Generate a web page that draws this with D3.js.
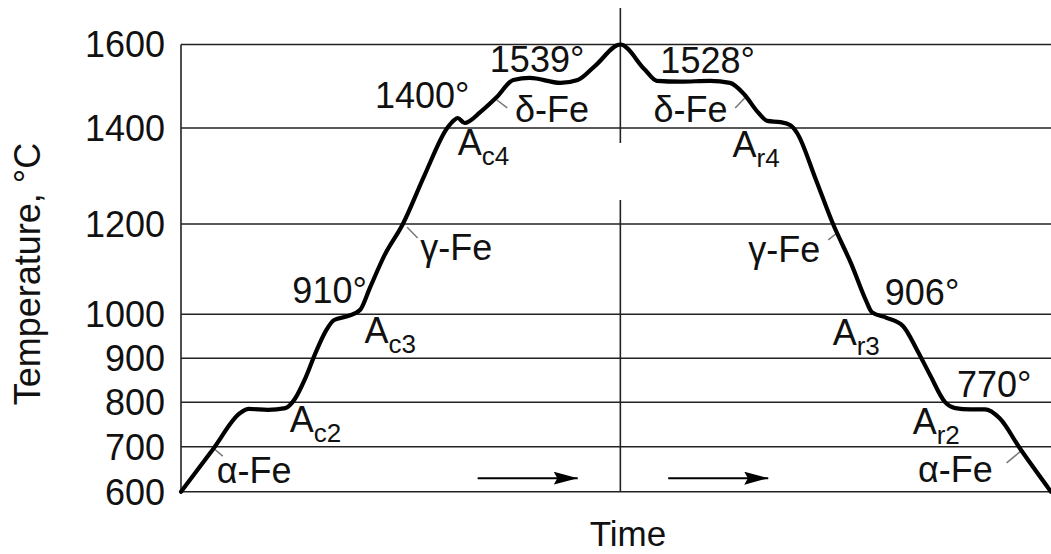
<!DOCTYPE html>
<html>
<head>
<meta charset="utf-8">
<script src="https://cdn.jsdelivr.net/npm/d3@7"></script>
<style>
	body { margin: 0; background: #fff; }
	text { font-family: "Liberation Sans", Arial, sans-serif; fill: #111; }
</style>
</head>
<body>
<svg id="chart" width="1051" height="554"></svg>
<script>
// tick values of the temperature axis (the drawing's axis is not quite linear)
var tempTicks = [600, 700, 800, 900, 1000, 1200, 1400, 1600];
var tickPix = [491.7, 446.7, 402.3, 358.3, 314.3, 224, 128, 44.5];

// heating / cooling curve: time (arbitrary units 0-100), temperature °C
var curveTime = [0, 3.7, 6.8, 7.8, 10.0, 12.0, 13.1, 14.3, 15.5, 16.7, 17.6, 19.2, 20.6, 21.7, 23.4, 25.5, 28.0,
	30.6, 31.4, 31.8, 32.6, 34.4, 36.3, 38.2, 40.1, 43.6, 45.6, 47.6, 50.5,
	53.3, 54.7, 57.4, 60.8, 63.1, 64.8, 66.3, 67.4, 68.9, 70.0, 70.8, 72.9, 74.9, 77.1, 78.7, 79.4,
	81.1, 83.0, 84.6, 86.1, 87.8, 89.0, 90.7, 92.4, 94.1, 96.4, 100];
var curveTemp = [600, 695, 776, 785, 783, 787, 808, 855, 914, 964, 987, 996, 1010, 1058, 1131, 1200, 1302,
	1400, 1419, 1424, 1412, 1438, 1474, 1515, 1520, 1508, 1515, 1549, 1600,
	1540, 1513, 1511, 1513, 1508, 1479, 1438, 1417, 1414, 1407, 1390, 1296, 1202, 1109, 1032, 1005,
	992, 973, 919, 862, 801, 787, 784, 784, 764, 697, 600];

// labels: text, subscript, time, temperature (start of text, baseline)
var labels = [
	["α-Fe", "", 4.1, 619],
	["A", "c2", 12.5, 733],
	["910°", "", 12.8, 1025],
	["A", "c3", 21.1, 935],
	["γ-Fe", "", 27.5, 1120],
	["1400°", "", 22.3, 1448],
	["A", "c4", 31.8, 1344],
	["1539°", "", 35.5, 1534],
	["δ-Fe", "", 38.4, 1414],
	["1528°", "", 55.1, 1532],
	["δ-Fe", "", 54.3, 1414],
	["A", "r4", 63.4, 1340],
	["γ-Fe", "", 65.2, 1116],
	["906°", "", 80.9, 1021],
	["A", "r3", 74.9, 930],
	["770°", "", 89.2, 812],
	["A", "r2", 84.1, 728],
	["α-Fe", "", 84.7, 621]
];

// short leader lines from the phase labels to the curve: t1, T1, t2, T2
var leaders = [
	[3.7, 697, 4.8, 679],
	[26.0, 1193, 27.2, 1169],
	[36.3, 1467, 37.5, 1448],
	[63.7, 1448, 64.8, 1472],
	[74.4, 1165, 75.4, 1180],
	[94.9, 664, 96.7, 693]
];

// time arrows: t start, t end, temperature
var arrows = [[34.1, 45.6, 630], [56.0, 67.5, 630]];

var peakTime = 50.5;

var svg = d3.select('#chart');
var x = d3.scaleLinear().domain([0, 100]).range([181, 1051]);
var y = d3.scaleLinear().domain(tempTicks).range(tickPix);

// horizontal grid lines
svg.append('g').selectAll('line')
	.data(tempTicks)
	.enter().append('line')
	.attr('x1', x(0)).attr('x2', x(100))
	.attr('y1', function (d) { return y(d); })
	.attr('y2', function (d) { return y(d); })
	.attr('stroke', '#222')
	.attr('stroke-width', 1.6);

// left axis line
svg.append('line')
	.attr('x1', x(0)).attr('x2', x(0))
	.attr('y1', y(1600)).attr('y2', y(600))
	.attr('stroke', '#222').attr('stroke-width', 1.6);

// vertical divider at the peak (broken around the labels)
svg.append('line')
	.attr('x1', x(peakTime)).attr('x2', x(peakTime))
	.attr('y1', 8).attr('y2', 143)
	.attr('stroke', '#222').attr('stroke-width', 1.6);
svg.append('line')
	.attr('x1', x(peakTime)).attr('x2', x(peakTime))
	.attr('y1', 200).attr('y2', y(600))
	.attr('stroke', '#222').attr('stroke-width', 1.6);

// tick labels
svg.append('g').selectAll('text')
	.data(tempTicks)
	.enter().append('text')
	.attr('x', 165)
	.attr('y', function (d) { return y(d); })
	.attr('dy', '0.36em')
	.style('text-anchor', 'end')
	.style('font-size', '36px')
	.text(function (d) { return d; });

// axis titles
svg.append('text')
	.attr('transform', 'translate(40,274) rotate(-90)')
	.style('text-anchor', 'middle')
	.style('font-size', '36px')
	.text('Temperature, °C');
svg.append('text')
	.attr('x', 628).attr('y', 546)
	.style('text-anchor', 'middle')
	.style('font-size', '35px')
	.text('Time');

// leader lines
svg.append('g').selectAll('line')
	.data(leaders)
	.enter().append('line')
	.attr('x1', function (d) { return x(d[0]); })
	.attr('y1', function (d) { return y(d[1]); })
	.attr('x2', function (d) { return x(d[2]); })
	.attr('y2', function (d) { return y(d[3]); })
	.attr('stroke', '#777')
	.attr('stroke-width', 1.5);

// the curve
var pts = curveTime.map(function (t, i) { return [t, curveTemp[i]]; });
var line = d3.line()
	.x(function (d) { return x(d[0]); })
	.y(function (d) { return y(d[1]); })
	.curve(d3.curveMonotoneX);
svg.append('path')
	.attr('d', line(pts))
	.attr('fill', 'none')
	.attr('stroke', '#000')
	.attr('stroke-width', 4.2)
	.attr('stroke-linejoin', 'round')
	.attr('stroke-linecap', 'round');

// labels
var lab = svg.append('g').selectAll('text')
	.data(labels)
	.enter().append('text')
	.attr('x', function (d) { return x(d[2]); })
	.attr('y', function (d) { return y(d[3]); })
	.style('font-size', '36px');
lab.append('tspan').text(function (d) { return d[0]; });
lab.filter(function (d) { return d[1] !== ''; })
	.append('tspan')
	.attr('dy', 10)
	.style('font-size', '26px')
	.text(function (d) { return d[1]; });

// arrows
svg.append('defs').append('marker')
	.attr('id', 'head')
	.attr('viewBox', '0 0 10 10')
	.attr('preserveAspectRatio', 'none')
	.attr('refX', 10).attr('refY', 5)
	.attr('markerWidth', 24).attr('markerHeight', 13)
	.attr('markerUnits', 'userSpaceOnUse')
	.attr('orient', 'auto')
	.append('path')
	.attr('d', 'M0,0 L10,5 L0,10 L1.5,5 Z')
	.attr('fill', '#000');
svg.append('g').selectAll('line')
	.data(arrows)
	.enter().append('line')
	.attr('x1', function (d) { return x(d[0]); })
	.attr('x2', function (d) { return x(d[1]); })
	.attr('y1', function (d) { return y(d[2]); })
	.attr('y2', function (d) { return y(d[2]); })
	.attr('stroke', '#000')
	.attr('stroke-width', 2)
	.attr('marker-end', 'url(#head)');
</script>
</body>
</html>
